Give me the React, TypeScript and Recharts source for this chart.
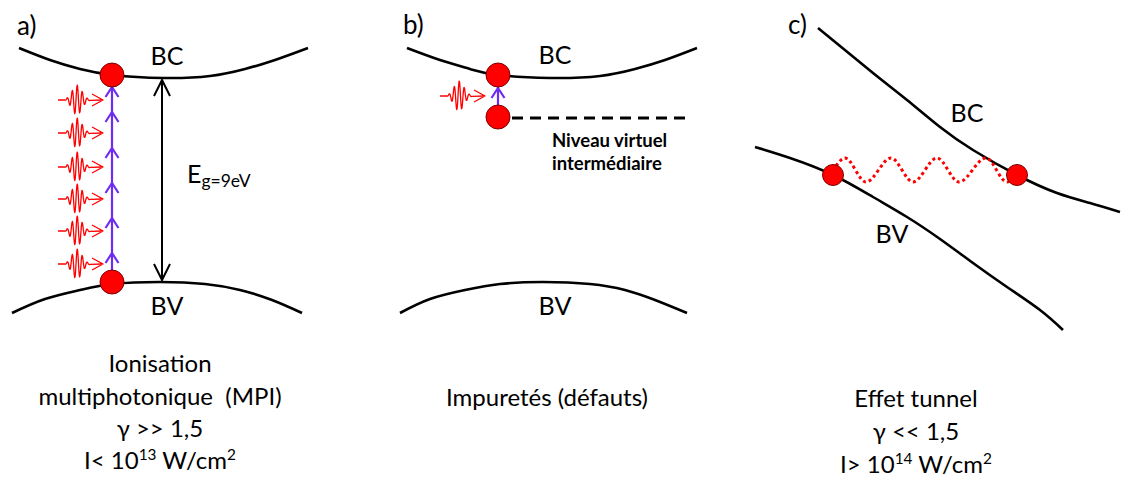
import React from 'react';
import { ComposedChart, Line, Scatter, XAxis, YAxis } from 'recharts';

const WIDTH = 1121;
const HEIGHT = 478;
const FONT = 'Lato, "Open Sans", "DejaVu Sans", sans-serif';

// ---- Band curves (canvas coordinates, y grows downward) ----
const bandA_BC = [
  { x: 19, y: 48 }, { x: 50, y: 60 }, { x: 80, y: 69 }, { x: 113, y: 75 },
  { x: 163, y: 78 }, { x: 210, y: 76 }, { x: 245, y: 69 }, { x: 275, y: 60 }, { x: 308, y: 48 },
];
const bandA_BV = [
  { x: 12, y: 313 }, { x: 45, y: 299 }, { x: 80, y: 290 }, { x: 113, y: 284 },
  { x: 160, y: 282 }, { x: 205, y: 284 }, { x: 240, y: 290 }, { x: 272, y: 300 }, { x: 302, y: 313 },
];
const bandB_BC = [
  { x: 407, y: 48 }, { x: 440, y: 60 }, { x: 470, y: 69 }, { x: 498, y: 75 },
  { x: 550, y: 78 }, { x: 600, y: 76 }, { x: 635, y: 69 }, { x: 665, y: 60 }, { x: 697, y: 48 },
];
const bandB_BV = [
  { x: 400, y: 313 }, { x: 430, y: 299 }, { x: 465, y: 290 }, { x: 500, y: 284 },
  { x: 543, y: 282 }, { x: 590, y: 284 }, { x: 625, y: 290 }, { x: 655, y: 300 }, { x: 687, y: 313 },
];
const bandC_BC = [
  { x: 818, y: 28 }, { x: 873, y: 73 }, { x: 907, y: 100 }, { x: 940, y: 127 },
  { x: 973, y: 150 }, { x: 1017, y: 175 }, { x: 1057, y: 193 }, { x: 1090, y: 203 }, { x: 1120, y: 212 },
];
const bandC_BV = [
  { x: 755, y: 147 }, { x: 790, y: 158 }, { x: 833, y: 175 }, { x: 873, y: 197 }, { x: 907, y: 217 },
  { x: 940, y: 239 }, { x: 973, y: 263 }, { x: 1007, y: 287 }, { x: 1040, y: 310 }, { x: 1063, y: 330 },
];
const bandCurves = [bandA_BC, bandA_BV, bandB_BC, bandB_BV, bandC_BC, bandC_BV];

// ---- Transitions ----
const mpiTransition = [{ x: 112, y: 272 }, { x: 112, y: 86 }];
const defectTransition = [{ x: 498, y: 107 }, { x: 498, y: 86 }];
const gapArrowShaft = [{ x: 162, y: 80 }, { x: 162, y: 280 }];
const virtualLevel = [{ x: 512, y: 118 }, { x: 690, y: 118 }];
const tunnelWave = [
  { x: 836, y: 166 }, { x: 845, y: 158 }, { x: 866, y: 182 }, { x: 891, y: 158 }, { x: 913, y: 182 },
  { x: 937, y: 158 }, { x: 959, y: 182 }, { x: 986, y: 158 }, { x: 1007, y: 182 }, { x: 1014, y: 178 },
];

// chevrons on the purple transitions (tip positions)
const chevrons = [
  { x: 112, y: 87 }, { x: 112, y: 112 }, { x: 112, y: 148 }, { x: 112, y: 183 },
  { x: 112, y: 218 }, { x: 112, y: 253 }, { x: 498, y: 88 },
];
// arrow heads of the gap arrow (dir -1 = up, 1 = down)
const gapArrowHeads = [{ x: 162, y: 80, dir: -1 }, { x: 162, y: 280, dir: 1 }];
// photons (start point of each wave packet)
const photons = [
  { x: 58, y: 100 }, { x: 58, y: 133 }, { x: 58, y: 167 }, { x: 58, y: 199 },
  { x: 58, y: 231 }, { x: 58, y: 264 }, { x: 440, y: 96 },
];
// electrons
const electrons = [
  { x: 112, y: 75, r: 12 }, { x: 112, y: 282, r: 12 },
  { x: 498, y: 75, r: 12 }, { x: 498, y: 117, r: 12 },
  { x: 833, y: 175, r: 10.5 }, { x: 1017, y: 175, r: 10.5 },
];

// ---- Text ----
type Part = [string, number]; // 0 normal, 1 superscript, -1 subscript
const panelTags = ['a)', 'b)', 'c)'];
const bandNames = ['BC', 'BV'];
const captionA = ['Ionisation', 'multiphotonique  (MPI)', 'γ >> 1,5'];
const captionB = ['Impuretés (défauts)'];
const captionC = ['Effet tunnel', 'γ << 1,5'];
const intensityA: Part[] = [['I< 10', 0], ['13', 1], [' W/cm', 0], ['2', 1]];
const intensityC: Part[] = [['I> 10', 0], ['14', 1], [' W/cm', 0], ['2', 1]];
const gapLabel: Part[] = [['E', 0], ['g=9eV', -1]];
const virtualLabel = ['Niveau virtuel', 'intermédiaire'];

const labels = [
  { x: 17, y: 35, size: 26, anchor: 'start', parts: [[panelTags[0], 0]] },
  { x: 403, y: 34, size: 26, anchor: 'start', parts: [[panelTags[1], 0]] },
  { x: 788, y: 34, size: 26, anchor: 'start', parts: [[panelTags[2], 0]] },
  { x: 167, y: 65, size: 25, parts: [[bandNames[0], 0]] },
  { x: 167, y: 315, size: 25, parts: [[bandNames[1], 0]] },
  { x: 555, y: 64, size: 25, parts: [[bandNames[0], 0]] },
  { x: 555, y: 315, size: 25, parts: [[bandNames[1], 0]] },
  { x: 967, y: 122, size: 25, parts: [[bandNames[0], 0]] },
  { x: 892, y: 243, size: 25, parts: [[bandNames[1], 0]] },
  { x: 187, y: 183, size: 25, anchor: 'start', small: 0.7, parts: gapLabel },
  { x: 552, y: 147, size: 18.5, weight: 700, anchor: 'start', parts: [[virtualLabel[0], 0]] },
  { x: 552, y: 170, size: 18.5, weight: 700, anchor: 'start', parts: [[virtualLabel[1], 0]] },
  { x: 160, y: 372, size: 24, parts: [[captionA[0], 0]] },
  { x: 160, y: 405, size: 24, parts: [[captionA[1], 0]] },
  { x: 160, y: 437, size: 24, parts: [[captionA[2], 0]] },
  { x: 160, y: 469, size: 24, parts: intensityA },
  { x: 547, y: 406, size: 24, parts: [[captionB[0], 0]] },
  { x: 916, y: 407, size: 24, parts: [[captionC[0], 0]] },
  { x: 916, y: 440, size: 24, parts: [[captionC[1], 0]] },
  { x: 916, y: 473, size: 24, parts: intensityC },
];

const PURPLE = '#6F2CF0';
const RED = '#FF0000';

const levelOffset = (lv: number, size: number) => (lv === 1 ? -0.36 * size : lv === -1 ? 0.17 * size : 0);

const TextMark = (props: any) => {
  const { cx, cy, payload } = props;
  const { size, weight = 400, anchor = 'middle', parts, small = 0.64 } = payload;
  let level = 0;
  return (
    <text
      x={cx}
      y={cy}
      fontFamily={FONT}
      fontSize={size}
      fontWeight={weight}
      textAnchor={anchor}
      fill="#000"
      style={{ whiteSpace: 'pre' }}
    >
      {parts.map(([s, lv]: Part, i: number) => {
        const dy = levelOffset(lv, size) - levelOffset(level, size);
        level = lv;
        return (
          <tspan key={i} dy={dy} fontSize={lv === 0 ? size : size * small}>
            {s}
          </tspan>
        );
      })}
    </text>
  );
};

const ChevronMark = (props: any) => {
  const { cx, cy } = props;
  return (
    <path
      d={`M${cx - 6.5},${cy + 10} L${cx},${cy} L${cx + 6.5},${cy + 10}`}
      fill="none"
      stroke={PURPLE}
      strokeWidth={2.2}
    />
  );
};

const ArrowHeadMark = (props: any) => {
  const { cx, cy, payload } = props;
  const d = -payload.dir;
  return (
    <path
      d={`M${cx - 8},${cy + d * 16} L${cx},${cy} L${cx + 8},${cy + d * 16}`}
      fill="none"
      stroke="#000"
      strokeWidth={2}
    />
  );
};

const PhotonMark = (props: any) => {
  const { cx, cy } = props;
  let d = `M${cx},${cy} L${cx + 8},${cy}`;
  for (let t = 0; t <= 24; t += 0.4) {
    const env = Math.exp(-Math.pow((t - 11) / 7, 2));
    const y = cy - 15 * env * Math.sin((2 * Math.PI * t) / 5);
    d += ` L${(cx + 8 + t).toFixed(2)},${y.toFixed(2)}`;
  }
  d += ` L${cx + 45},${cy} M${cx + 34},${cy - 6} L${cx + 45},${cy} L${cx + 34},${cy + 6}`;
  return <path d={d} fill="none" stroke={RED} strokeWidth={1.3} strokeLinejoin="round" />;
};

const ElectronMark = (props: any) => {
  const { cx, cy, payload } = props;
  return <circle cx={cx} cy={cy} r={payload.r} fill={RED} stroke="#7A0000" strokeWidth={1} />;
};

export default function App() {
  return (
    <div style={{ position: 'absolute', left: 0, top: 0, width: WIDTH, height: HEIGHT, background: '#fff' }}>
      <ComposedChart width={WIDTH} height={HEIGHT} margin={{ top: 0, right: 0, bottom: 0, left: 0 }}>
        <XAxis type="number" dataKey="x" domain={[0, WIDTH]} hide allowDataOverflow />
        <YAxis type="number" dataKey="y" domain={[0, HEIGHT]} reversed hide allowDataOverflow />
        {bandCurves.map((c, i) => (
          <Line
            key={`band-${i}`}
            data={c}
            dataKey="y"
            type="natural"
            stroke="#000"
            strokeWidth={2.6}
            dot={false}
            activeDot={false}
            isAnimationActive={false}
          />
        ))}
        <Line data={gapArrowShaft} dataKey="y" type="linear" stroke="#000" strokeWidth={2} dot={false} activeDot={false} isAnimationActive={false} />
        <Line data={virtualLevel} dataKey="y" type="linear" stroke="#000" strokeWidth={3} strokeDasharray="11 7" dot={false} activeDot={false} isAnimationActive={false} />
        <Line data={mpiTransition} dataKey="y" type="linear" stroke={PURPLE} strokeWidth={2.2} dot={false} activeDot={false} isAnimationActive={false} />
        <Line data={defectTransition} dataKey="y" type="linear" stroke={PURPLE} strokeWidth={2.2} dot={false} activeDot={false} isAnimationActive={false} />
        <Line data={tunnelWave} dataKey="y" type="monotone" stroke={RED} strokeWidth={3} strokeDasharray="3 3" dot={false} activeDot={false} isAnimationActive={false} />
        <Scatter data={chevrons} dataKey="y" shape={ChevronMark} isAnimationActive={false} />
        <Scatter data={gapArrowHeads} dataKey="y" shape={ArrowHeadMark} isAnimationActive={false} />
        <Scatter data={photons} dataKey="y" shape={PhotonMark} isAnimationActive={false} />
        <Scatter data={electrons} dataKey="y" shape={ElectronMark} isAnimationActive={false} />
        <Scatter data={labels} dataKey="y" shape={TextMark} isAnimationActive={false} />
      </ComposedChart>
    </div>
  );
}
